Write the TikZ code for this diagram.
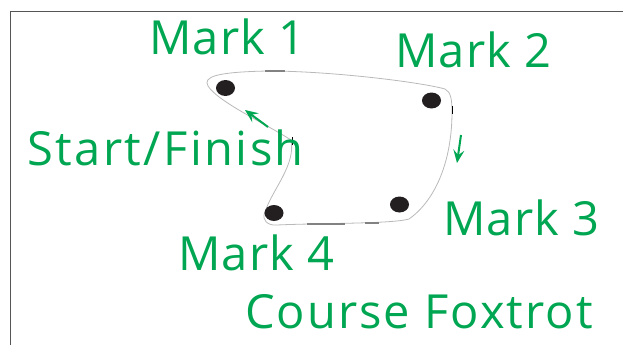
\documentclass[tikz,border=0pt]{standalone}
\usepackage{fontspec}
\setmainfont{Open Sans}
\newfontfamily\spA[LetterSpace=2.5]{Open Sans}
\newfontfamily\spB[LetterSpace=5.2]{Open Sans}
\newfontfamily\spC[LetterSpace=4.3]{Open Sans}
\usetikzlibrary{arrows.meta,shapes.geometric}
\definecolor{mkgreen}{RGB}{0,166,81}
\definecolor{dotc}{RGB}{35,31,32}
\definecolor{framec}{RGB}{85,85,85}
\definecolor{coursec}{RGB}{185,185,185}
\definecolor{tickc}{RGB}{130,130,130}
\begin{document}
\begin{tikzpicture}[x=1pt,y=-1pt,
  lbl/.style={anchor=base west, inner sep=0pt, text=mkgreen, font=\spA\fontsize{47}{50}\selectfont},
  frameline/.style={draw=framec, line width=1.5pt},
  course/.style={draw=coursec, line width=0.8pt},
  tickmark/.style={draw=tickc, line width=2pt},
  blacktick/.style={draw=black, line width=1pt},
  buoy/.style={ellipse, fill=dotc, inner sep=0pt, minimum width=19pt, minimum height=16pt},
  garrow/.style={draw=mkgreen, line width=2pt, -{Stealth[length=13pt,width=11pt,inset=5pt]}}]
\useasboundingbox (0,0) rectangle (623,345);
\draw[frameline] (10.5,345) -- (10.5,11.5) -- (623,11.5);
% course
\draw[course] (291,140) .. controls (268,125) and (218,102) .. (208,86)
  .. controls (203,77) and (215,72) .. (268,71)
  .. controls (330,71) and (420,82) .. (445,89)
  .. controls (451,92) and (452,100) .. (452,112)
  .. controls (452,160) and (436,200) .. (409,219)
  .. controls (392,224) and (320,223) .. (277,225)
  .. controls (268,226) and (261,220) .. (265,212)
  .. controls (272,190) and (296,165) .. (291,140);
\draw[tickmark] (265,71.3) -- (285,71.3);
\draw[tickmark] (307,223.5) -- (345,223.5);
\draw[tickmark] (365,223.3) -- (379,223.3);
\draw[blacktick] (452.2,106) -- (452.2,114);
\draw[blacktick] (292.6,137) -- (292.6,145);
% buoys
\node[buoy] (m1) at (225.5,88) {};
\node[buoy] (m2) at (431.5,100.5) {};
\node[buoy] (m3) at (399.5,204.5) {};
\node[buoy] (m4) at (274,213) {};
% direction arrows
\coordinate (a1s) at (268,127);
\coordinate (a1e) at (245,110);
\coordinate (a2s) at (461,135);
\coordinate (a2e) at (457,163);
\draw[garrow] (a1s) -- (a1e);
\draw[garrow] (a2s) -- (a2e);
% labels
\node[lbl] (t1) at (149,55) {Mark 1};
\node[lbl] (t2) at (395,67.5) {Mark 2};
\node[lbl, font=\spB\fontsize{47}{50}\selectfont] (ts) at (27,165) {Start/Finish};
\node[lbl] (t3) at (443,235) {Mark 3};
\node[lbl] (t4) at (178,270) {Mark 4};
\node[lbl, font=\spC\fontsize{47}{50}\selectfont] (tc) at (245,328) {Course Foxtrot};
\end{tikzpicture}
\end{document}
